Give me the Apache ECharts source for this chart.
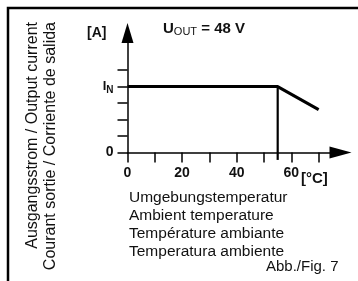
<!DOCTYPE html>
<html>
<head>
<meta charset="utf-8">
<script src="https://cdn.jsdelivr.net/npm/echarts@6/dist/echarts.min.js"></script>
<style>
  html, body { margin: 0; padding: 0; background: #fff; }
  #chart { width: 358px; height: 281px; }
</style>
</head>
<body>
<div id="chart"></div>
<script>
// derating curve: ambient temperature (°C) vs output current (I_N = 4 units)
var tempC = [0, 55, 70];
var current = [4, 4, 2.6];
var cutoffLine = [[55, 4], [55, -0.45]];

var xTicks = [0, 10, 20, 30, 40, 50, 60, 70];
var xLabels = [0, 20, 40, 60];
var yTicks = [0, 1, 2, 3, 4, 5];
var yLabels = [0, 4];

var captionLines = ['Umgebungstemperatur', 'Ambient temperature', 'Température ambiante', 'Temperatura ambiente'];
var yTitleLines = ['Ausgangsstrom / Output current', 'Courant sortie / Corriente de salida'];

var FONT = 'Liberation Sans, Arial, sans-serif';
var INK = '#111';

var myChart = echarts.init(document.getElementById('chart'));

var graphics = [
	{
		type: 'polyline',
		shape: { points: [[8, 281], [8, 8], [358, 8]] },
		style: { stroke: '#000', lineWidth: 2.5, fill: null }
	},
	{
		type: 'text', x: 87, y: 26,
		style: { text: '[A]', font: 'bold 14px ' + FONT, fill: INK }
	},
	{
		type: 'text', x: 163, y: 20,
		style: {
			text: '{b|U}{s|OUT}{b| = 48 V}',
			rich: {
				b: { font: 'bold 15px ' + FONT, fill: INK },
				s: { font: '11px ' + FONT, fill: INK, padding: [6, 0, 0, 0] }
			}
		}
	},
	{
		type: 'text', x: 301, y: 171,
		style: { text: '[°C]', font: 'bold 15px ' + FONT, fill: INK }
	},
	{
		type: 'text', x: 266, y: 259,
		style: { text: 'Abb./Fig. 7', font: '15px ' + FONT, fill: INK }
	}
];

captionLines.forEach(function (line, i) {
	graphics.push({
		type: 'text', x: 129, y: 190 + i * 18,
		style: { text: line, font: '15.5px ' + FONT, fill: INK }
	});
});

yTitleLines.forEach(function (line, i) {
	graphics.push({
		type: 'text', x: 33 + i * 18, y: 22, rotation: Math.PI / 2,
		style: { text: line, font: '16px ' + FONT, fill: INK, align: 'right', verticalAlign: 'middle' }
	});
});

var option = {
	animation: false,
	grid: { left: 127.5, right: 17.5, top: 33, bottom: 128.5 },
	xAxis: {
		type: 'value',
		min: 0,
		max: 78,
		splitLine: { show: false },
		axisLine: {
			lineStyle: { color: '#000', width: 1.5 },
			symbol: ['none', 'triangle'],
			symbolSize: [12, 22]
		},
		axisTick: {
			inside: false, length: 10,
			lineStyle: { color: '#000', width: 1.5 },
			customValues: xTicks
		},
		axisLabel: {
			customValues: xLabels,
			margin: 14,
			color: INK,
			fontFamily: FONT,
			fontWeight: 'bold',
			fontSize: 14
		}
	},
	yAxis: {
		type: 'value',
		min: 0,
		max: 7.25,
		splitLine: { show: false },
		axisLine: {
			lineStyle: { color: '#000', width: 1.5 },
			symbol: ['none', 'triangle'],
			symbolSize: [12, 20]
		},
		axisTick: {
			inside: false, length: 10,
			lineStyle: { color: '#000', width: 1.5 },
			customValues: yTicks
		},
		axisLabel: {
			customValues: yLabels,
			margin: 14,
			color: INK,
			fontFamily: FONT,
			fontWeight: 'bold',
			fontSize: 14,
			formatter: function (v) {
				return v === 4 ? '{i|I}{n|N}' : String(v);
			},
			rich: {
				i: { fontFamily: FONT, fontWeight: 'bold', fontSize: 13, color: INK },
				n: { fontFamily: FONT, fontWeight: 'bold', fontSize: 10, color: INK, padding: [8, 0, 0, 0] }
			}
		}
	},
	series: [
		{
			type: 'line',
			data: tempC.map(function (t, i) { return [t, current[i]]; }),
			symbol: 'none',
			lineStyle: { color: '#000', width: 3 },
			clip: false
		},
		{
			type: 'line',
			data: cutoffLine,
			symbol: 'none',
			lineStyle: { color: '#000', width: 2.2 },
			clip: false
		}
	],
	graphic: graphics
};

myChart.setOption(option);
</script>
</body>
</html>
